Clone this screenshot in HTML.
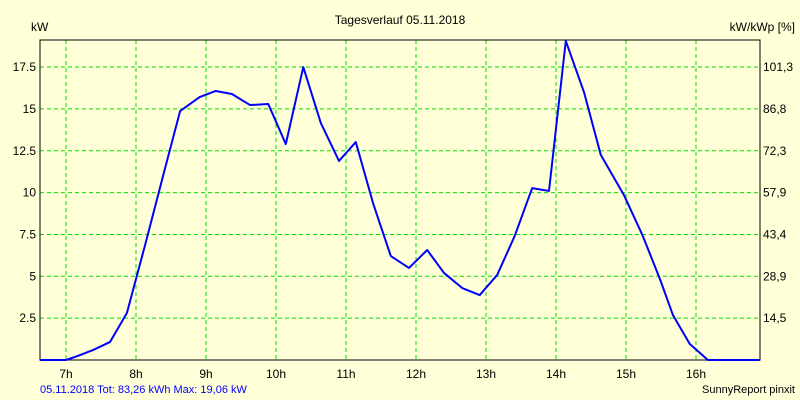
<!DOCTYPE html>
<html><head><meta charset="utf-8"><style>
body{margin:0;background:#ffffd8;}
svg{display:block;font-family:"Liberation Sans",sans-serif;}
</style></head><body>
<svg id="c" width="800" height="400" xmlns="http://www.w3.org/2000/svg">
<rect width="800" height="400" fill="#ffffd8"/>
<text x="400" y="24" font-size="12" text-anchor="middle">Tagesverlauf 05.11.2018</text>
<text x="31" y="31" font-size="12">kW</text>
<text x="795" y="31" font-size="12" text-anchor="end">kW/kWp [%]</text>
<text x="40" y="393" font-size="11" fill="#0000ff">05.11.2018 Tot: 83,26 kWh Max: 19,06 kW</text>
<text x="795" y="393" font-size="11" text-anchor="end">SunnyReport pinxit</text>
<g id="grid"></g><g id="axes"></g><g id="series"></g>
</svg>
<script>
const hourTicks=[7,8,9,10,11,12,13,14,15,16];
const kwTicks=[2.5,5,7.5,10,12.5,15,17.5];
const kwTickLabels=["2.5","5","7.5","10","12.5","15","17.5"];
const pctTickLabels=["14,5","28,9","43,4","57,9","72,3","86,8","101,3"];
const hours=[6.63,7.0,7.13,7.39,7.63,7.87,8.13,8.39,8.63,8.91,9.14,9.37,9.63,9.89,10.14,10.39,10.64,10.9,11.14,11.39,11.64,11.9,12.16,12.4,12.66,12.91,13.16,13.41,13.66,13.9,14.14,14.4,14.64,14.97,15.24,15.49,15.67,15.91,16.17,16.91];
const power=[0,0,0.18,0.6,1.08,2.81,6.87,11.05,14.87,15.71,16.07,15.89,15.23,15.29,12.9,17.5,14.16,11.89,13.02,9.32,6.21,5.5,6.57,5.2,4.3,3.88,5.08,7.41,10.27,10.1,19.06,16.0,12.25,9.86,7.41,4.78,2.69,0.96,0,0];
const NS="http://www.w3.org/2000/svg";
const L=40,R=760,T=40,B=360;
const xS=h=>66+(h-7)*70;
const yS=v=>B-v*16.74;
function mk(tag,attrs,parent){const e=document.createElementNS(NS,tag);for(const k in attrs)e.setAttribute(k,attrs[k]);document.getElementById(parent).appendChild(e);return e;}
hourTicks.forEach(h=>{
 const x=xS(h);
 const l=mk('line',{x1:x,x2:x,y1:T,y2:B,stroke:'#00e000','stroke-dasharray':'4,3'},'grid');
 
 
 const t=mk('text',{x:x,y:378,'font-size':12,'text-anchor':'middle'},'axes');
 t.textContent=h+'h';
 
 
});
kwTicks.forEach((v,i)=>{
 const y=yS(v);
 const l=mk('line',{x1:L,x2:R,y1:y,y2:y,stroke:'#00e000','stroke-dasharray':'4,3'},'grid');
 
 
 const t=mk('text',{x:36,y:y+4,'font-size':12,'text-anchor':'end'},'axes');
 t.textContent=kwTickLabels[i];
 
 
 const t2=mk('text',{x:763,y:y+4,'font-size':12},'axes');
 t2.textContent=pctTickLabels[i];
 
 
});
const fr=mk('rect',{x:L,y:T,width:R-L,height:B-T,fill:'none',stroke:'#000','stroke-width':1},'axes');


const pl=mk('polyline',{points:hours.map((h,i)=>xS(h)+','+yS(power[i])).join(' '),fill:'none',stroke:'#0000ff','stroke-width':2,'stroke-linejoin':'round'},'series');


</script>
</body></html>
